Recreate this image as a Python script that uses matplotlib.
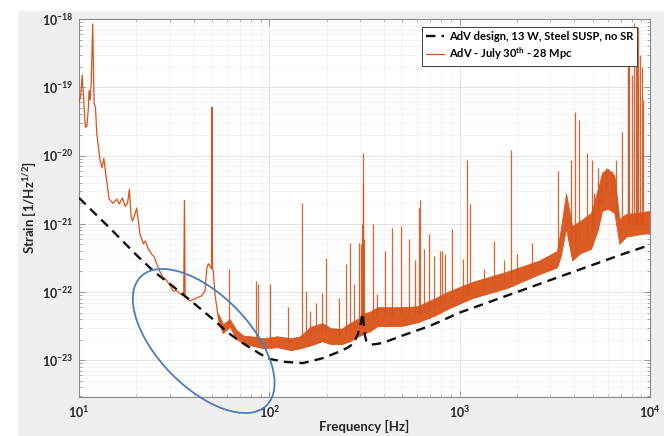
import matplotlib
matplotlib.use("Agg")
import matplotlib.pyplot as plt
from matplotlib.patches import Ellipse, Rectangle
from matplotlib.ticker import LogLocator, NullFormatter

# ---------------- data ----------------
design_freq = [10, 15, 20, 25, 30, 40, 50, 60, 70, 80, 90, 100, 120, 150, 190, 235,
               260, 275, 292, 304, 309, 313, 318, 324, 345, 370, 400, 500, 700,
               1000, 2000, 4000, 7000, 10000]
design_asd = [2.4e-21, 7.9e-22, 3.5e-22, 1.95e-22, 1.32e-22, 6.9e-23, 4.1e-23, 2.6e-23,
              1.9e-23, 1.5e-23, 1.23e-23, 1.05e-23, 9.5e-24, 9.1e-24, 1.07e-23, 1.35e-23,
              1.55e-23, 1.74e-23, 2.4e-23, 3.7e-23, 4.9e-23, 3.5e-23, 2.3e-23, 1.9e-23,
              1.7e-23, 1.74e-23, 1.82e-23, 2.3e-23, 3.2e-23, 5.0e-23, 1.0e-22, 2.0e-22,
              3.5e-22, 4.9e-22]

# measured spectrum below ~57 Hz (a single trace)
low_freq = [10.0, 10.2, 10.4, 10.6, 10.8, 11.0, 11.2, 11.3, 11.45, 11.6, 11.8, 12.0, 12.2,
            12.4, 12.9, 13.2, 13.5, 13.9, 14.4, 15.1, 15.8, 16.3, 16.9, 17.5, 18.0, 18.4,
            18.8, 19.1, 19.7, 20.1, 20.5, 20.9, 21.8, 22.3, 23.1, 24.1, 24.8, 25.6, 26.6,
            27.7, 28.5, 29.5, 30.4, 31.3, 32.6, 34.0, 35.5, 35.8, 36.1, 38.3, 40.0, 41.5,
            44.0, 45.9, 46.9, 47.8, 49.7, 50.0, 50.3, 50.8, 51.9, 54.0, 57.4]
low_asd = [6.0e-20, 7.5e-20, 1.5e-19, 6.0e-20, 2.6e-20, 2.7e-20, 5.0e-20, 9.0e-20, 6.5e-20,
           1.2e-19, 8.4e-19, 5.8e-20, 5.1e-20, 2.1e-20, 8.5e-21, 6.6e-21, 9.1e-21, 4.8e-21,
           2.3e-21, 2.0e-21, 2.3e-21, 1.95e-21, 2.4e-21, 1.8e-21, 2.0e-21, 3.2e-21, 1.23e-21,
           1.1e-21, 1.4e-21, 1.7e-21, 1.1e-21, 7.1e-22, 5.1e-22, 5.6e-22, 4.3e-22, 3.6e-22,
           3.3e-22, 2.6e-22, 2.0e-22, 1.62e-22, 1.55e-22, 1.35e-22, 1.2e-22, 1.03e-22,
           1.05e-22, 9.4e-23, 8.8e-23, 2.2e-21, 8.5e-23, 7.4e-23, 7.8e-23, 8.2e-23, 8.8e-23,
           1.03e-22, 2.2e-22, 2.6e-22, 2.2e-22, 5.1e-20, 2.2e-22, 2.0e-22, 8.8e-23, 4.2e-23,
           2.9e-23]

# noise band of the measured spectrum above ~54 Hz (upper / lower envelope)
band_freq = [54, 57, 62, 67, 73, 80, 93, 110, 130, 145, 165, 190, 210, 240, 265, 290, 310,
             340, 370, 420, 500, 600, 750, 880, 1170, 1780, 2620, 3250, 3400, 3620, 3900,
             4300, 4900, 5300, 5600, 6000, 6500, 6900, 7500, 8500, 10000]
band_upper = [4.8e-23, 3.4e-23, 4.0e-23, 2.8e-23, 2.3e-23, 2.25e-23, 2.1e-23, 2.25e-23,
              2.1e-23, 2.25e-23, 3.1e-23, 3.5e-23, 2.95e-23, 2.9e-23, 3.5e-23, 4.0e-23,
              4.8e-23, 5.2e-23, 6.0e-23, 6.0e-23, 6.0e-23, 6.2e-23, 8.2e-23, 1.03e-22,
              1.41e-22, 2.0e-22, 2.9e-22, 4.0e-22, 8.5e-22, 2.8e-21, 9.3e-22, 1.1e-21,
              1.44e-21, 3.1e-21, 5.6e-21, 6.4e-21, 5.1e-21, 1.18e-21, 1.4e-21, 1.44e-21,
              1.55e-21]
band_lower = [3.6e-23, 2.5e-23, 3.1e-23, 2.04e-23, 1.78e-23, 1.66e-23, 1.5e-23, 1.55e-23,
              1.41e-23, 1.5e-23, 1.66e-23, 1.9e-23, 1.73e-23, 1.73e-23, 1.9e-23, 2.2e-23,
              2.4e-23, 2.7e-23, 3.16e-23, 3.16e-23, 3.2e-23, 3.6e-23, 4.6e-23, 5.8e-23,
              8.2e-23, 1.15e-22, 1.83e-22, 2.3e-22, 3.4e-22, 8.5e-22, 2.9e-22, 3.7e-22,
              4.3e-22, 7.9e-22, 1.55e-21, 1.66e-21, 1.44e-21, 5.1e-22, 6.5e-22, 6.9e-22,
              7.4e-22]

# narrow spectral lines above ~60 Hz: frequency, top and foot of each line
line_freq = [61.5, 85.5, 87.5, 100.5, 125, 149, 156, 164, 176, 190, 198, 231, 252, 264,
             278, 297, 303, 306, 309, 312, 315, 349, 368, 404, 443, 493, 541, 585, 611,
             621, 650, 690, 737, 785, 805, 838, 916, 1041, 1097, 1140, 1335, 1520, 1720,
             1854, 2000, 2400, 3300, 3850, 4030, 4250, 4650, 4950, 5100, 5330, 5550, 5900,
             6320, 6650, 7100, 7630, 7700, 7800, 8050, 8200, 8400, 8520, 8700, 8900, 9120,
             9210]
line_top = [2.2e-22, 1.45e-22, 1.3e-22, 1.3e-22, 6.0e-23, 2.0e-21, 1.03e-22, 5.2e-23,
            6.9e-23, 9.7e-23, 3.2e-22, 8.2e-23, 2.6e-22, 5.2e-22, 1.3e-22, 5.2e-22, 5.0e-22,
            1.0e-21, 1.1e-20, 4.0e-21, 6.0e-22, 1.0e-21, 9.4e-23, 4.0e-22, 8.7e-22, 9.3e-22,
            6.0e-22, 2.9e-22, 1.7e-21, 2.2e-21, 4.3e-22, 7.1e-22, 3.4e-22, 4.0e-22, 4.0e-22,
            3.6e-22, 8.5e-22, 3.0e-22, 8.5e-21, 1.95e-21, 2.2e-22, 5.6e-22, 2.9e-22, 1.2e-20,
            3.6e-22, 5.2e-22, 6.0e-21, 8.5e-21, 4.3e-20, 3.3e-20, 1.1e-20, 8.5e-21, 2.8e-21,
            6.6e-21, 3.6e-21, 6.6e-21, 6.0e-21, 8.5e-21, 2.2e-20, 2.5e-19, 3.9e-19, 2.0e-19,
            1.5e-19, 8.7e-19, 5.0e-19, 3.9e-19, 7.6e-19, 3.0e-19, 2.0e-19, 6.5e-20]
line_foot = [3.5e-23, 1.9e-23, 1.9e-23, 1.8e-23, 1.8e-23, 1.9e-23, 2.2e-23, 2.3e-23,
             2.5e-23, 2.6e-23, 2.5e-23, 2.3e-23, 2.5e-23, 2.6e-23, 2.8e-23, 3.0e-23, 3.2e-23,
             3.2e-23, 3.4e-23, 3.5e-23, 3.5e-23, 4.0e-23, 4.3e-23, 4.4e-23, 4.4e-23, 4.5e-23,
             4.6e-23, 4.7e-23, 4.8e-23, 5.0e-23, 5.2e-23, 5.5e-23, 6.0e-23, 6.5e-23, 6.8e-23,
             7.0e-23, 7.8e-23, 9.0e-23, 9.2e-23, 9.5e-23, 1.1e-22, 1.2e-22, 1.4e-22, 1.5e-22,
             1.6e-22, 1.9e-22, 3.5e-22, 5.0e-22, 5.0e-22, 5.5e-22, 6.0e-22, 7.0e-22, 1.0e-21,
             1.5e-21, 2.0e-21, 3.0e-21, 2.5e-21, 1.2e-21, 8.5e-22, 1.0e-21, 1.0e-21, 1.0e-21,
             1.0e-21, 1.0e-21, 1.0e-21, 1.0e-21, 1.0e-21, 1.0e-21, 1.0e-21, 1.0e-21]

x_ticks = [10, 100, 1000, 10000]
y_ticks = [1e-23, 1e-22, 1e-21, 1e-20, 1e-19, 1e-18]
label_design = "AdV design, 13 W, Steel SUSP, no SR"
label_meas = r"AdV - July 30$^{\mathdefault{th}}$ - 28 Mpc"

# ---------------- style ----------------
FONT = "Lato"
ORANGE = "#D95319"
plt.rcParams["font.family"] = [FONT, "DejaVu Sans"]
plt.rcParams["font.weight"] = "bold"

fig = plt.figure(figsize=(6.64, 4.36), dpi=100, facecolor="#efefef")
# white margins of the cropped screenshot
fig.patches.append(Rectangle((0, 0), 18 / 664, 1, transform=fig.transFigure,
                             facecolor="white", edgecolor="none", zorder=-10))
fig.patches.append(Rectangle((0, 1 - 11 / 436), 1, 11 / 436, transform=fig.transFigure,
                             facecolor="white", edgecolor="none", zorder=-10))

ax = fig.add_axes([79 / 664, 1 - 397 / 436, (650 - 79) / 664, (397 - 19) / 436])
ax.set_facecolor("white")
ax.set_xscale("log")
ax.set_yscale("log")
ax.set_xlim(10, 10000)
ax.set_ylim(2.9e-24, 1e-18)

ax.fill_between(band_freq, band_lower, band_upper, color=ORANGE, lw=0.6, alpha=0.95,
                zorder=2)
ax.vlines(line_freq, line_foot, line_top, color=ORANGE, lw=0.9, alpha=0.9, zorder=3)
l_meas, = ax.plot(low_freq, low_asd, color=ORANGE, lw=0.9, zorder=3, label=label_meas)
l_design, = ax.plot(design_freq, design_asd, color="#111111", lw=1.7,
                    linestyle=(0, (4, 2.6)), zorder=4, label=label_design)

ax.set_xticks(x_ticks)
ax.set_yticks(y_ticks)
ax.xaxis.set_minor_locator(LogLocator(base=10, subs=range(2, 10), numticks=50))
ax.yaxis.set_minor_locator(LogLocator(base=10, subs=range(2, 10), numticks=50))
ax.xaxis.set_minor_formatter(NullFormatter())
ax.yaxis.set_minor_formatter(NullFormatter())
ax.tick_params(which="both", direction="in", top=True, right=True, color="#8a8a8a",
               labelcolor="#262626", labelsize=9)
ax.tick_params(which="major", length=4, width=0.6)
ax.tick_params(which="minor", length=2.2, width=0.5)
ax.tick_params(axis="x", pad=5)
ax.tick_params(axis="y", pad=4)
for lab in ax.get_xticklabels() + ax.get_yticklabels():
    lab.set_fontweight("bold")

ax.grid(True, which="major", color="#dedede", lw=0.6)
ax.grid(True, which="minor", color="#f0f0f0", lw=0.5)
ax.set_axisbelow(True)
for sp in ax.spines.values():
    sp.set_color("#8a8a8a")
    sp.set_linewidth(0.8)

ax.set_xlabel("Frequency [Hz]", fontsize=9.5, fontweight="bold", color="#262626", labelpad=0)
ax.set_ylabel(r"Strain [1/Hz$^{\mathdefault{1/2}}$]", fontsize=9.5, fontweight="bold",
              color="#262626", labelpad=3)

leg = ax.legend(handles=[l_design, l_meas], loc="upper right",
                bbox_to_anchor=(0.977, 0.979), borderaxespad=0, fancybox=False,
                framealpha=1, edgecolor="#404040", handlelength=1.6,
                handletextpad=0.4, borderpad=0.35, labelspacing=0.3,
                prop={"family": [FONT, "DejaVu Sans"], "weight": "bold", "size": 8})
leg.get_frame().set_linewidth(0.7)

# blue annotation ellipse (drawn in figure inches)
ell = Ellipse((2.037, 0.95), width=1.80, height=0.92, angle=-45.8,
              transform=fig.dpi_scale_trans, fill=False, edgecolor="#4A7EBB",
              lw=1.3, clip_on=False, zorder=10)
fig.patches.append(ell)

fig.savefig("out.png", dpi=100, facecolor=fig.get_facecolor())
